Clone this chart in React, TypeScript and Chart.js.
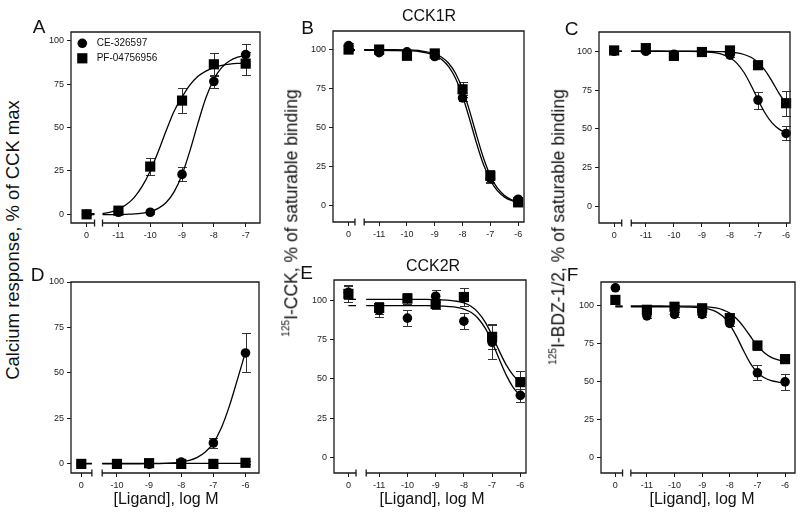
import React, { useEffect, useRef } from "react";
import { Chart, registerables } from "chart.js";

Chart.register(...registerables);

// ================= DATA =================
const seriesNames = ["CE-326597", "PF-04756956"];
const yTicks = [0, 25, 50, 75, 100];

// Panel A – calcium response, CCK1R
const doseA = [0, -11, -10, -9, -8, -7];
const ceA = [0, 1.2, 1.2, 23, 76.5, 92];
const ceErrA = [0.5, 0.8, 0.8, 4, 4, 6];
const pfA = [0, 2.1, 27.5, 65.5, 86.4, 86.8];
const pfErrA = [0.5, 1, 5, 7, 6.5, 6.5];
const fitXA = [-11.5, -11.25, -11, -10.75, -10.5, -10.25, -10, -9.75, -9.5, -9.25, -9, -8.75, -8.5, -8.25, -8, -7.75, -7.5, -7.25, -7];
const ceFitA = [-0.2, -0.2, -0.2, 0, 0.2, 0.7, 1.6, 3.4, 6.8, 12.9, 22.8, 36.7, 52.5, 67.1, 77.8, 84.6, 88.4, 90.5, 91.6];
const pfFitA = [0.4, 1.3, 2.9, 5.6, 9.8, 16.2, 25, 36, 48.1, 59.4, 67.5, 74.5, 79.5, 82.5, 84.5, 85.8, 86.5, 86.9, 87.1];

// Panel B – 125I-CCK binding, CCK1R
const doseB = [0, -11, -10, -9, -8, -7, -6];
const ceB = [102.5, 98, 98.5, 95.5, 69, 17.5, 4];
const ceErrB = [1.5, 1, 1, 1.5, 2, 3, 1.5];
const pfB = [100, 100, 96, 97.5, 74.5, 19, 2];
const pfErrB = [1, 1, 1.5, 1.5, 5, 4, 1.5];
const fitXB = [-11.54, -11, -10.5, -10, -9.5, -9, -8.75, -8.5, -8.25, -8, -7.75, -7.5, -7.25, -7, -6.75, -6.5, -6.25, -6];
const ceFitB = [99.5, 99.5, 99.4, 99.2, 98.6, 96.3, 93.6, 89, 81.4, 70.1, 55.6, 40.1, 26.4, 16.2, 9.5, 5.5, 3.2, 2];
const pfFitB = [100, 100, 100, 99.8, 99.2, 97.3, 95.1, 91.2, 84.6, 74.5, 60.8, 45.3, 30.6, 19.1, 11.3, 6.6, 3.8, 2.3];

// Panel C – 125I-BDZ-1/2 binding, CCK1R
const doseC = [0, -11, -10, -9, -8, -7, -6];
const ceC = [100, 100, 98, 99.5, 97.5, 68.5, 47];
const ceErrC = [1, 1, 1, 1.5, 1.5, 5.5, 4.5];
const pfC = [100.5, 102, 97, 99.5, 100.5, 91, 66.5];
const pfErrC = [1, 1, 1, 1.5, 1, 1.5, 8];
const fitXC = [-11.52, -11, -10.5, -10, -9.5, -9, -8.5, -8.25, -8, -7.75, -7.5, -7.25, -7, -6.75, -6.5, -6.25, -6];
const ceFitC = [100, 100, 100, 99.9, 99.9, 99.7, 98.9, 97.8, 95.8, 92.2, 86.3, 78.1, 68.7, 60.2, 53.8, 49.8, 47.5];
const pfFitC = [100, 100, 100, 100, 100, 100, 99.8, 99.7, 99.5, 98.9, 97.9, 96.1, 92.8, 87.6, 80.6, 72.9, 66.2];

// Panel D – calcium response, CCK2R
const doseD = [0, -10, -9, -8, -7, -6];
const ceD = [0, 0, -0.3, 1, 11.5, 61];
const ceErrD = [0.5, 0.5, 0.5, 1, 2.5, 10.7];
const pfD = [0, 0, 0.4, 0, 0, 0.6];
const pfErrD = [0.5, 0.5, 0.8, 0.5, 0.5, 0.8];
const fitXD = [-10.46, -10, -9.5, -9, -8.5, -8.25, -8, -7.75, -7.5, -7.25, -7, -6.75, -6.5, -6.25, -6];
const ceFitD = [0, 0, 0, 0.1, 0.3, 0.55, 1, 1.9, 3.6, 6.5, 11.6, 19.9, 31.9, 46.5, 61.5];
const pfFitD = [0.3, 0.3, 0.3, 0.3, 0.3, 0.3, 0.3, 0.3, 0.3, 0.3, 0.3, 0.3, 0.3, 0.3, 0.3];

// Panel E – 125I-CCK binding, CCK2R
const doseE = [0, -11, -10, -9, -8, -7, -6];
const ceE = [105.5, 94, 89, 103, 87, 73.5, 39.5];
const ceErrE = [4.5, 4, 5, 4, 5, 11, 4];
const pfE = [104.5, 95.5, 101.5, 98, 102.5, 77, 48];
const pfErrE = [5, 4, 3.5, 3, 5.5, 8, 7];
const fitXE = [-11.46, -11, -10.5, -10, -9.5, -9, -8.5, -8.25, -8, -7.75, -7.5, -7.25, -7, -6.75, -6.5, -6.25, -6];
const ceFitE = [97, 97, 97, 97, 96.95, 96.85, 96.4, 95.9, 94.8, 92.7, 88.9, 82.7, 73.6, 62.8, 52.5, 44.5, 39.3];
const pfFitE = [101, 101, 101, 101, 100.95, 100.85, 100.4, 99.8, 98.7, 96.6, 92.7, 86.6, 77.9, 68, 59, 52.3, 48];

// Panel F – 125I-BDZ-1/2 binding, CCK2R
const doseF = [0, -11, -10, -9, -8, -7, -6];
const ceF = [111.5, 93, 94, 94, 88, 55.5, 49.5];
const ceErrF = [1, 1.5, 1.5, 1.5, 1.5, 5, 5.5];
const pfF = [103.5, 97, 99, 98, 91.5, 73.5, 64.5];
const pfErrF = [1, 1, 1, 1.5, 1.5, 3, 2];
const fitXF = [-11.58, -11, -10.5, -10, -9.5, -9, -8.75, -8.5, -8.25, -8, -7.75, -7.5, -7.25, -7, -6.75, -6.5, -6.25, -6];
const ceFitF = [99, 99, 99, 98.95, 98.8, 98.25, 97.4, 95.8, 92.7, 87.3, 79.3, 70, 61.6, 55.7, 52.2, 50.3, 49.4, 48.9];
const pfFitF = [99.5, 99.5, 99.5, 99.45, 99.4, 99.2, 98.8, 98.2, 97, 94.8, 91.1, 85.8, 79.4, 73.4, 68.7, 65.7, 64, 63];

// ================= LAYOUT =================
const FONT = '"Liberation Sans", Arial, Helvetica, sans-serif';
const PAD_T = 10;
const PAD_R = 8;
const YW = 40;
const XH = 30;
const INK = "#1a1a1a";

type Panel = {
  id: string;
  frame: { l: number; t: number; r: number; b: number };
  xMin: number;
  xMax: number;
  zero: number;
  brk: [number, number];
  yMin: number;
  yMax: number;
  doses: number[];
  ce: number[];
  ceErr: number[];
  pf: number[];
  pfErr: number[];
  fitX: number[];
  ceFit: number[];
  pfFit: number[];
  legend?: boolean;
};

const panels: Panel[] = [
  { id: "A", frame: { l: 71, t: 32, r: 260, b: 223 }, xMin: -12.49, xMax: -6.55, zero: -12, brk: [-11.75, -11.5], yMin: -5, yMax: 105,
    doses: doseA, ce: ceA, ceErr: ceErrA, pf: pfA, pfErr: pfErrA, fitX: fitXA, ceFit: ceFitA, pfFit: pfFitA, legend: true },
  { id: "B", frame: { l: 333, t: 31, r: 524, b: 222 }, xMin: -12.66, xMax: -5.79, zero: -12.1, brk: [-11.87, -11.54], yMin: -10.6, yMax: 111.9,
    doses: doseB, ce: ceB, ceErr: ceErrB, pf: pfB, pfErr: pfErrB, fitX: fitXB, ceFit: ceFitB, pfFit: pfFitB },
  { id: "C", frame: { l: 599, t: 32, r: 790, b: 223 }, xMin: -12.67, xMax: -5.86, zero: -12.13, brk: [-11.86, -11.52], yMin: -10.7, yMax: 112.4,
    doses: doseC, ce: ceC, ceErr: ceErrC, pf: pfC, pfErr: pfErrC, fitX: fitXC, ceFit: ceFitC, pfFit: pfFitC },
  { id: "D", frame: { l: 71, t: 282, r: 259, b: 473 }, xMin: -11.43, xMax: -5.58, zero: -11.11, brk: [-10.78, -10.46], yMin: -5, yMax: 100,
    doses: doseD, ce: ceD, ceErr: ceErrD, pf: pfD, pfErr: pfErrD, fitX: fitXD, ceFit: ceFitD, pfFit: pfFitD },
  { id: "E", frame: { l: 334, t: 280, r: 526, b: 473 }, xMin: -12.6, xMax: -5.8, zero: -12.09, brk: [-11.82, -11.46], yMin: -10.2, yMax: 113.4,
    doses: doseE, ce: ceE, ceErr: ceErrE, pf: pfE, pfErr: pfErrE, fitX: fitXE, ceFit: ceFitE, pfFit: pfFitE },
  { id: "F", frame: { l: 601, t: 282, r: 795, b: 473 }, xMin: -12.66, xMax: -5.64, zero: -12.14, brk: [-11.88, -11.58], yMin: -10.5, yMax: 115.3,
    doses: doseF, ce: ceF, ceErr: ceErrF, pf: pfF, pfErr: pfErrF, fitX: fitXF, ceFit: ceFitF, pfFit: pfFitF },
];

// ================= PLUGINS =================
const errorBarPlugin = {
  id: "errorBars",
  beforeDatasetsDraw(chart: any) {
    const ctx = chart.ctx;
    const xs = chart.scales.x;
    const ys = chart.scales.y;
    ctx.save();
    ctx.strokeStyle = "#333";
    ctx.lineWidth = 1;
    chart.data.datasets.forEach((ds: any) => {
      if (!ds.errors) return;
      ds.data.forEach((pt: any, i: number) => {
        const e = ds.errors[i];
        if (!e) return;
        const px = Math.round(xs.getPixelForValue(pt.x)) + 0.5;
        const y1 = Math.round(ys.getPixelForValue(pt.y + e)) + 0.5;
        const y2 = Math.round(ys.getPixelForValue(pt.y - e)) + 0.5;
        ctx.beginPath();
        ctx.moveTo(px, y1);
        ctx.lineTo(px, y2);
        ctx.moveTo(px - 4.5, y1);
        ctx.lineTo(px + 4.5, y1);
        ctx.moveTo(px - 4.5, y2);
        ctx.lineTo(px + 4.5, y2);
        ctx.stroke();
      });
    });
    ctx.restore();
  },
};

const framePlugin = {
  id: "frameBreak",
  afterDatasetsDraw(chart: any, _args: any, opts: any) {
    const ctx = chart.ctx;
    const { left, top, right, bottom } = chart.chartArea;
    const xs = chart.scales.x;
    const b1 = xs.getPixelForValue(opts.brk[0]);
    const b2 = xs.getPixelForValue(opts.brk[1]);
    ctx.save();
    ctx.strokeStyle = INK;
    ctx.lineWidth = 1.3;
    ctx.beginPath();
    ctx.moveTo(b2, bottom);
    ctx.lineTo(right, bottom);
    ctx.lineTo(right, top);
    ctx.lineTo(left, top);
    ctx.lineTo(left, bottom);
    ctx.lineTo(b1, bottom);
    ctx.moveTo(b1, bottom - 3.5);
    ctx.lineTo(b1, bottom + 3.5);
    ctx.moveTo(b2, bottom - 3.5);
    ctx.lineTo(b2, bottom + 3.5);
    ctx.stroke();
    ctx.restore();
  },
};

const insideLegendPlugin = {
  id: "insideLegend",
  afterDraw(chart: any, _args: any, opts: any) {
    if (!opts || !opts.show) return;
    const ctx = chart.ctx;
    const { left, top } = chart.chartArea;
    ctx.save();
    ctx.fillStyle = "#000";
    ctx.beginPath();
    ctx.arc(left + 11.3, top + 11.3, 4.8, 0, Math.PI * 2);
    ctx.fill();
    ctx.fillRect(left + 11.3 - 5.1, top + 26.3 - 5.1, 10.2, 10.2);
    ctx.fillStyle = "#111";
    ctx.font = `10px ${FONT}`;
    ctx.textBaseline = "middle";
    ctx.textAlign = "left";
    ctx.fillText(seriesNames[0], left + 25.7, top + 11);
    ctx.fillText(seriesNames[1], left + 25.7, top + 26.3);
    ctx.restore();
  },
};

// ================= COMPONENTS =================
function PanelChart({ p }: { p: Panel }) {
  const ref = useRef<HTMLCanvasElement | null>(null);
  const { l, t, r, b } = p.frame;
  const width = r - l + YW + PAD_R;
  const height = b - t + PAD_T + XH;

  useEffect(() => {
    if (!ref.current) return;
    const toX = (d: number) => (d === 0 ? p.zero : d);
    const pts = (vals: number[]) => p.doses.map((d, i) => ({ x: toX(d), y: vals[i] }));
    const fit = (vals: number[]) => [
      { x: p.zero, y: vals[0] },
      { x: p.brk[0], y: vals[0] },
      { x: (p.brk[0] + p.brk[1]) / 2, y: null },
      ...p.fitX.map((x, i) => ({ x, y: vals[i] })),
    ];
    const lineDs = (label: string, vals: number[]) => ({
      type: "line",
      label,
      data: fit(vals),
      borderColor: "#000",
      borderWidth: 1.3,
      pointRadius: 0,
      fill: false,
      spanGaps: false,
      cubicInterpolationMode: "monotone",
      clip: false,
    });

    const chart = new Chart(ref.current, {
      type: "scatter",
      data: {
        datasets: [
          {
            label: seriesNames[1],
            data: pts(p.pf),
            errors: p.pfErr,
            pointStyle: "rect",
            pointRadius: 7.2,
            backgroundColor: "#000",
            borderColor: "#000",
            borderWidth: 0,
            clip: false,
          },
          {
            label: seriesNames[0],
            data: pts(p.ce),
            errors: p.ceErr,
            pointStyle: "circle",
            pointRadius: 4.8,
            backgroundColor: "#000",
            borderColor: "#000",
            borderWidth: 0,
            clip: false,
          },
          lineDs(seriesNames[1] + " fit", p.pfFit),
          lineDs(seriesNames[0] + " fit", p.ceFit),
        ] as any,
      },
      options: {
        animation: false,
        responsive: false,
        devicePixelRatio: 1,
        events: [],
        layout: { padding: { left: 0, top: PAD_T, right: PAD_R, bottom: 0 } },
        plugins: {
          legend: { display: false },
          tooltip: { enabled: false },
          frameBreak: { brk: p.brk },
          insideLegend: { show: !!p.legend },
        } as any,
        scales: {
          x: {
            type: "linear",
            min: p.xMin,
            max: p.xMax,
            afterBuildTicks: (s: any) => {
              s.ticks = p.doses.map((d) => ({ value: toX(d) }));
            },
            afterFit: (s: any) => {
              s.height = XH;
            },
            ticks: {
              autoSkip: false,
              maxRotation: 0,
              minRotation: 0,
              padding: 3,
              color: "#222",
              font: { family: FONT, size: 9 },
              callback: (v: any) => (v === p.zero ? "0" : String(v)),
            },
            grid: { display: true, drawOnChartArea: false, drawTicks: true, tickLength: 4, color: INK, lineWidth: 1 },
            border: { display: false },
          },
          y: {
            type: "linear",
            min: p.yMin,
            max: p.yMax,
            afterBuildTicks: (s: any) => {
              s.ticks = yTicks.map((v) => ({ value: v }));
            },
            afterFit: (s: any) => {
              s.width = YW;
            },
            ticks: {
              autoSkip: false,
              padding: 3,
              color: "#222",
              font: { family: FONT, size: 9 },
              callback: (v: any) => String(v),
            },
            grid: { display: true, drawOnChartArea: false, drawTicks: true, tickLength: 4, color: INK, lineWidth: 1 },
            border: { display: false },
          },
        },
      } as any,
      plugins: [errorBarPlugin, framePlugin, insideLegendPlugin] as any,
    });
    return () => chart.destroy();
  }, []);

  return (
    <canvas
      ref={ref}
      width={width}
      height={height}
      style={{ position: "absolute", left: l - YW, top: t - PAD_T, width, height }}
    />
  );
}

function Txt(props: { x: number; y: number; size: number; rot?: boolean; children: any }) {
  return (
    <div
      style={{
        position: "absolute",
        left: props.x,
        top: props.y,
        transform: `translate(-50%, -50%)${props.rot ? " rotate(-90deg)" : ""}`,
        fontSize: props.size,
        lineHeight: 1,
        whiteSpace: "nowrap",
        color: "#111",
        fontFamily: FONT,
      }}
    >
      {props.children}
    </div>
  );
}

const supStyle: any = { fontSize: "0.58em", position: "relative", top: "-0.75em", verticalAlign: "baseline" };

export default function App() {
  return (
    <div
      style={{
        position: "fixed",
        left: 0,
        top: 0,
        width: 800,
        height: 517,
        background: "#fff",
        overflow: "hidden",
        fontFamily: FONT,
      }}
    >
      {panels.map((p) => (
        <PanelChart key={p.id} p={p} />
      ))}

      {/* panel letters */}
      <Txt x={39} y={26} size={19}>A</Txt>
      <Txt x={307.5} y={26.7} size={19}>B</Txt>
      <Txt x={571.7} y={28.3} size={19}>C</Txt>
      <Txt x={37.5} y={274} size={19}>D</Txt>
      <Txt x={306.7} y={271.7} size={19}>E</Txt>
      <Txt x={572.5} y={274} size={19}>F</Txt>

      {/* titles */}
      <Txt x={429} y={16} size={16}>CCK1R</Txt>
      <Txt x={433} y={265.5} size={16}>CCK2R</Txt>

      {/* y-axis labels */}
      <Txt x={13} y={240} size={18.5} rot>Calcium response, % of CCK max</Txt>
      <Txt x={292} y={212.5} size={17.5} rot>
        <span style={supStyle}>125</span>I-CCK, % of saturable binding
      </Txt>
      <Txt x={559} y={226.5} size={17.5} rot>
        <span style={supStyle}>125</span>I-BDZ-1/2, % of saturable binding
      </Txt>

      {/* x-axis labels */}
      <Txt x={166} y={499} size={16}>[Ligand], log M</Txt>
      <Txt x={432} y={499} size={16}>[Ligand], log M</Txt>
      <Txt x={702} y={499} size={16}>[Ligand], log M</Txt>
    </div>
  );
}
